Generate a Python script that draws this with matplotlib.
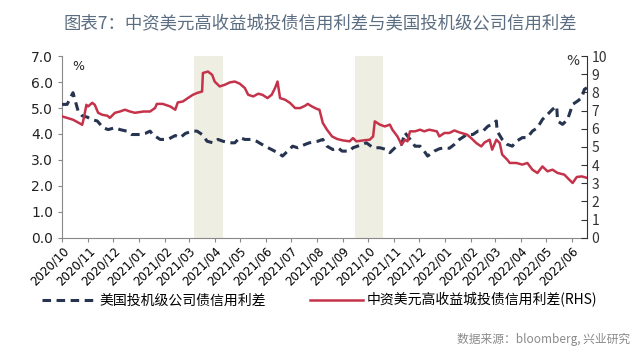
import matplotlib
matplotlib.use("Agg")
import matplotlib.pyplot as plt
import pandas as pd

plt.rcParams['font.family'] = ['Noto Sans CJK SC', 'DejaVu Sans']

# 美国投机级公司债信用利差 (left axis, %)
us_dates = [
    "2020-10-01", "2020-10-07", "2020-10-14", "2020-10-20", "2020-10-25", "2020-10-31",
    "2020-11-06", "2020-11-12", "2020-11-19", "2020-11-25", "2020-12-03", "2020-12-09",
    "2020-12-17", "2020-12-23", "2021-01-02", "2021-01-08", "2021-01-14", "2021-01-17",
    "2021-01-26", "2021-02-04", "2021-02-13", "2021-02-19", "2021-02-25", "2021-03-05",
    "2021-03-11", "2021-03-17", "2021-03-23", "2021-03-30", "2021-04-05", "2021-04-11",
    "2021-04-19", "2021-04-25", "2021-05-01", "2021-05-07", "2021-05-15", "2021-05-21",
    "2021-05-31", "2021-06-08", "2021-06-15", "2021-06-21", "2021-06-27", "2021-07-03",
    "2021-07-09", "2021-07-18", "2021-07-23", "2021-08-02", "2021-08-08", "2021-08-13",
    "2021-08-20", "2021-08-26", "2021-08-31", "2021-09-09", "2021-09-13", "2021-09-21",
    "2021-09-29", "2021-10-07", "2021-10-15", "2021-10-23", "2021-10-27", "2021-11-04",
    "2021-11-10", "2021-11-14", "2021-11-17", "2021-11-22", "2021-11-26", "2021-12-02",
    "2021-12-07", "2021-12-11", "2021-12-19", "2021-12-25", "2021-12-31", "2022-01-06",
    "2022-01-12", "2022-01-18", "2022-01-27", "2022-02-03", "2022-02-09", "2022-02-15",
    "2022-02-21", "2022-02-26", "2022-03-03", "2022-03-04", "2022-03-10", "2022-03-16",
    "2022-03-22", "2022-03-27", "2022-04-03", "2022-04-09", "2022-04-15", "2022-04-21",
    "2022-04-27", "2022-05-03", "2022-05-09", "2022-05-14", "2022-05-15", "2022-05-21",
    "2022-05-27", "2022-06-02", "2022-06-08", "2022-06-13", "2022-06-16", "2022-06-19",
]
us_spread = [
    5.14, 5.14, 5.59, 4.90, 4.70, 4.65,
    4.55, 4.50, 4.24, 4.17, 4.24, 4.17,
    4.11, 3.98, 3.98, 4.02, 4.11, 3.98,
    3.79, 3.79, 3.94, 3.86, 4.02, 4.11,
    4.11, 3.98, 3.72, 3.66, 3.79, 3.72,
    3.66, 3.66, 3.86, 3.79, 3.79, 3.72,
    3.53, 3.40, 3.28, 3.15, 3.34, 3.53,
    3.47, 3.60, 3.66, 3.72, 3.79, 3.53,
    3.40, 3.47, 3.34, 3.34, 3.47, 3.56,
    3.66, 3.47, 3.47, 3.40, 3.28, 3.53,
    3.60, 4.05, 3.92, 3.72, 3.53, 3.53,
    3.34, 3.15, 3.34, 3.43, 3.47, 3.45,
    3.60, 3.79, 3.98, 3.98, 4.11, 4.11,
    4.30, 4.37, 4.50, 4.11, 3.79, 3.60,
    3.53, 3.72, 3.86, 3.86, 4.11, 4.24,
    4.56, 4.75, 4.95, 5.07, 4.50, 4.37,
    4.56, 5.14, 5.27, 5.40, 5.72, 5.78,
]

# 中资美元高收益城投债信用利差 (right axis, %)
cn_dates = [
    "2020-10-01", "2020-10-07", "2020-10-14", "2020-10-20", "2020-10-25", "2020-10-27",
    "2020-10-30", "2020-11-01", "2020-11-06", "2020-11-09", "2020-11-13", "2020-11-18",
    "2020-11-24", "2020-11-27", "2020-12-03", "2020-12-09", "2020-12-15", "2020-12-21",
    "2020-12-27", "2021-01-06", "2021-01-14", "2021-01-20", "2021-01-22", "2021-01-29",
    "2021-02-07", "2021-02-13", "2021-02-16", "2021-02-22", "2021-02-28", "2021-03-06",
    "2021-03-11", "2021-03-17", "2021-03-18", "2021-03-24", "2021-03-29", "2021-04-01",
    "2021-04-07", "2021-04-13", "2021-04-19", "2021-04-25", "2021-05-01", "2021-05-07",
    "2021-05-11", "2021-05-17", "2021-05-23", "2021-05-28", "2021-06-03", "2021-06-08",
    "2021-06-12", "2021-06-15", "2021-06-18", "2021-06-24", "2021-06-30", "2021-07-06",
    "2021-07-12", "2021-07-18", "2021-07-21", "2021-07-26", "2021-08-01", "2021-08-04",
    "2021-08-08", "2021-08-13", "2021-08-19", "2021-08-25", "2021-09-01", "2021-09-09",
    "2021-09-13", "2021-09-17", "2021-09-25", "2021-10-03", "2021-10-07", "2021-10-09",
    "2021-10-15", "2021-10-21", "2021-10-27", "2021-10-30", "2021-11-05", "2021-11-10",
    "2021-11-14", "2021-11-17", "2021-11-20", "2021-11-26", "2021-12-02", "2021-12-07",
    "2021-12-13", "2021-12-22", "2021-12-25", "2021-12-31", "2022-01-06", "2022-01-12",
    "2022-01-18", "2022-01-27", "2022-02-01", "2022-02-07", "2022-02-13", "2022-02-17",
    "2022-02-23", "2022-02-26", "2022-03-03", "2022-03-07", "2022-03-10", "2022-03-16",
    "2022-03-19", "2022-03-27", "2022-04-03", "2022-04-09", "2022-04-15", "2022-04-21",
    "2022-04-27", "2022-05-03", "2022-05-09", "2022-05-15", "2022-05-23", "2022-05-29",
    "2022-06-02", "2022-06-07", "2022-06-13", "2022-06-19",
]
cn_spread = [
    6.68, 6.60, 6.50, 6.35, 6.22, 6.60,
    7.32, 7.23, 7.43, 7.32, 6.88, 6.77,
    6.72, 6.60, 6.88, 6.95, 7.05, 6.95,
    6.88, 6.95, 6.95, 7.15, 7.37, 7.37,
    7.23, 7.05, 7.45, 7.50, 7.69, 7.87,
    7.97, 8.05, 9.07, 9.15, 8.97, 8.60,
    8.33, 8.42, 8.55, 8.60, 8.48, 8.24,
    7.87, 7.78, 7.93, 7.87, 7.69, 7.87,
    8.24, 8.60, 7.69, 7.60, 7.42, 7.14,
    7.14, 7.27, 7.37, 7.23, 7.09, 7.05,
    6.32, 5.95, 5.58, 5.44, 5.36, 5.31,
    5.49, 5.31, 5.36, 5.40, 5.58, 6.41,
    6.23, 6.13, 6.23, 5.95, 5.58, 5.13,
    5.40, 5.31, 5.86, 5.86, 5.95, 5.86,
    5.95, 5.86, 5.58, 5.77, 5.77, 5.91,
    5.80, 5.68, 5.49, 5.22, 5.03, 5.25,
    5.40, 4.85, 5.40, 5.22, 4.58, 4.30,
    4.12, 4.12, 4.03, 4.12, 3.75, 3.57,
    3.93, 3.66, 3.75, 3.57, 3.48, 3.20,
    3.02, 3.35, 3.38, 3.30,
]

shade_periods = [("2021-03-07", "2021-04-11"), ("2021-09-15", "2021-10-19")]

tick_months = pd.date_range("2020-10-01", "2022-06-01", freq="MS")
tick_labels = [d.strftime("%Y/%m") for d in tick_months]

us_label = "美国投机级公司债信用利差"
cn_label = "中资美元高收益城投债信用利差(RHS)"

navy = "#26344f"
red = "#c5334b"

fig = plt.figure(figsize=(6.4, 3.55), dpi=100)
ax = fig.add_axes([0.097, 0.330, 0.820, 0.512])
ax2 = ax.twinx()

# shaded windows
for a, b in shade_periods:
    ax.axvspan(pd.Timestamp(a), pd.Timestamp(b), color="#efeee2", lw=0, zorder=0)

l1, = ax.plot(pd.to_datetime(us_dates), us_spread, color=navy, lw=2.2,
              dashes=(2.8, 1.8), zorder=3)
l2, = ax2.plot(pd.to_datetime(cn_dates), cn_spread, color=red, lw=1.8, zorder=2)

ax.set_xlim(pd.Timestamp("2020-10-01"), pd.Timestamp("2022-06-19"))
ax.set_ylim(0, 7)
ax2.set_ylim(0, 10)

ax.set_yticks([0, 1, 2, 3, 4, 5, 6, 7])
ax.set_yticklabels(["0.0", "1.0", "2.0", "3.0", "4.0", "5.0", "6.0", "7.0"],
                   family="DejaVu Sans", fontsize=10, color="#222222")
ax2.set_yticks(range(0, 11))
ax2.tick_params(axis="y", direction="in", length=4, labelsize=10,
                labelcolor="#333333", color="#333333")
ax.tick_params(axis="y", direction="out", length=3, color="#888888")

ax.set_xticks(tick_months)
ax.set_xticklabels(tick_labels, rotation=45, ha="right", rotation_mode="anchor",
                   fontsize=8.5, family="DejaVu Sans")
ax.tick_params(axis="x", direction="out", length=3, color="#888888", pad=2)

for a in (ax, ax2):
    a.spines["top"].set_visible(False)
ax.spines["left"].set_color("#888888")
ax.spines["bottom"].set_color("#888888")
ax.spines["right"].set_visible(False)
ax2.spines["left"].set_visible(False)
ax2.spines["bottom"].set_visible(False)
ax2.spines["right"].set_color("#333333")

ax.text(0.02, 0.94, "%", transform=ax.transAxes, fontsize=9, color="#222222",
        family="DejaVu Sans", va="center")
ax2.text(0.985, 0.975, "%", transform=ax2.transAxes, fontsize=10, color="#333333",
         ha="right", va="center", family="DejaVu Sans")

fig.text(0.5, 0.935, "图表7：中资美元高收益城投债信用利差与美国投机级公司信用利差",
         ha="center", va="center", fontsize=12.5, color="#5b6d80")

fig.legend([l1, l2], [us_label, cn_label], loc="center", bbox_to_anchor=(0.5, 0.155),
           ncol=2, frameon=False, fontsize=10, handlelength=3.8, columnspacing=3.2,
           handletextpad=0.3)

fig.text(0.985, 0.045, "数据来源：bloomberg, 兴业研究", ha="right", va="center",
         fontsize=8.5, color="#8a8a8a")

fig.savefig("out.png", dpi=100)
